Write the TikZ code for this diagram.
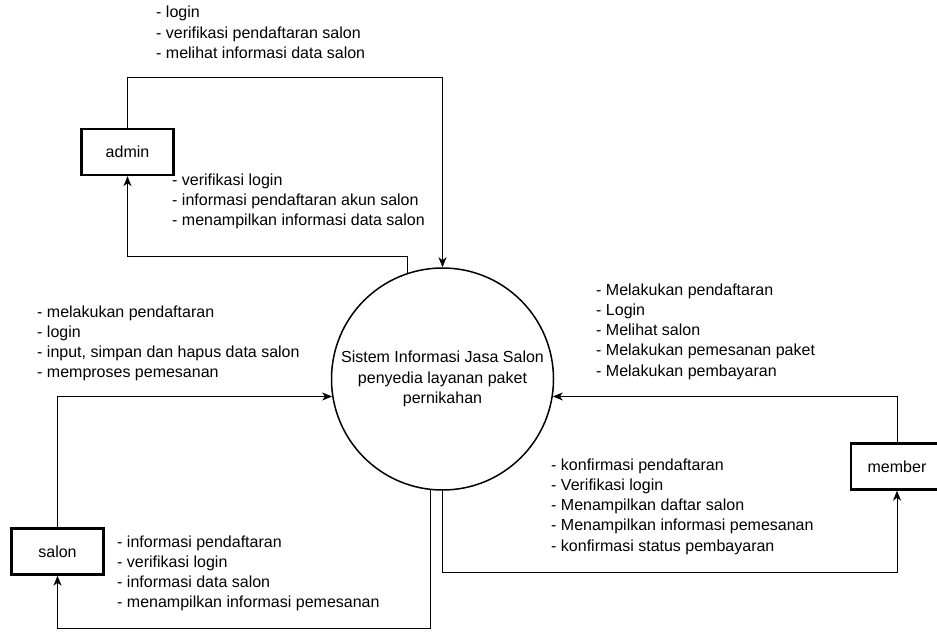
\documentclass[tikz,border=0pt]{standalone}
\usepackage{fontspec}
\setmainfont{Liberation Sans}
\usetikzlibrary{arrows.meta}
\definecolor{ink}{HTML}{000000}
\newcommand{\dfdfont}{\fontsize{16}{20.2}\selectfont}
\tikzset{
 every node/.append style={font=\dfdfont,text=ink},
 entity/.style={draw=ink,line width=2.4pt,minimum width=92pt,minimum height=46pt,inner sep=0pt},
 process/.style={circle,draw=ink,line width=1.5pt,minimum size=222pt,inner sep=0pt,align=center},
 note/.style={anchor=north west,inner sep=0pt,align=left},
 flow/.style={-{Stealth[length=10pt,width=8pt,inset=3pt]},draw=ink,line width=1pt},
}

\begin{document}
\begin{tikzpicture}[x=1pt,y=-1pt]
\useasboundingbox (0,0) rectangle (937,637);

\node[process] (sistem) at (442.5,379) {Sistem Informasi Jasa Salon\\penyedia layanan paket\\pernikahan};
\node[entity] (admin) at (127.5,152) {admin};
\node[entity] (salon) at (57.5,551.5) {salon};
\node[entity] (member) at (897,466.5) {member};

\node[note] (adminin) at (156,3.5) {\strut- login\\- verifikasi pendaftaran salon\\- melihat informasi data salon};
\node[note] (adminout) at (172,171) {\strut- verifikasi login\\- informasi pendaftaran akun salon\\- menampilkan informasi data salon};
\node[note] (salonin) at (37,303) {\strut- melakukan pendaftaran\\- login\\- input, simpan dan hapus data salon\\- memproses pemesanan};
\node[note] (salonout) at (117,533) {\strut- informasi pendaftaran\\- verifikasi login\\- informasi data salon\\- menampilkan informasi pemesanan};
\node[note] (memberin) at (596,281) {\strut- Melakukan pendaftaran\\- Login\\- Melihat salon\\- Melakukan pemesanan paket\\- Melakukan pembayaran};
\node[note] (memberout) at (551,456) {\strut- konfirmasi pendaftaran\\- Verifikasi login\\- Menampilkan daftar salon\\- Menampilkan informasi pemesanan\\- konfirmasi status pembayaran};

\draw[flow] (admin.north) -- ++(0,-50) -| (sistem.north);
\draw[flow] (sistem.108) -- ++(0,-16) -| (admin.south);
\draw[flow] (salon.north) |- (sistem.189);
\draw[flow] (sistem.264) -- ++(0,138) -| (salon.south);
\draw[flow] (member.north) |- (sistem.351);
\draw[flow] (sistem.south) -- ++(0,82) -| (member.south);

\end{tikzpicture}
\end{document}
